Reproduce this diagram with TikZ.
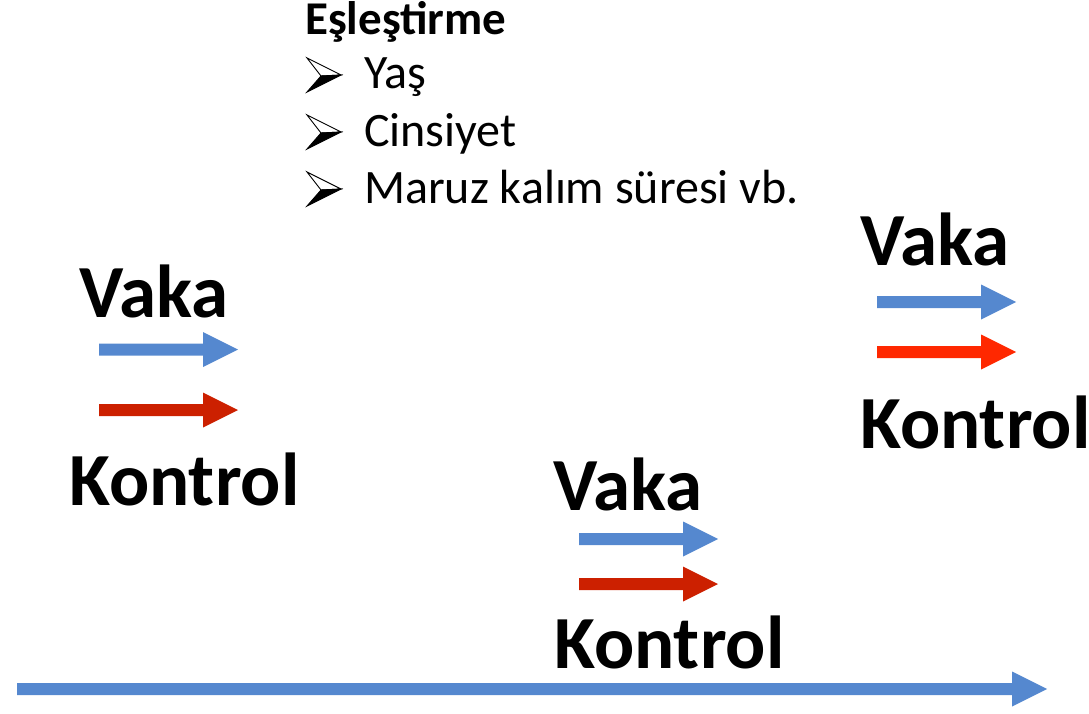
\documentclass[tikz,border=0pt]{standalone}
\usepackage{fontspec}
\setmainfont{Carlito}
\usetikzlibrary{positioning,calc}

\definecolor{vakablue}{RGB}{85,136,207}
\definecolor{darkred}{RGB}{204,32,0}
\definecolor{brightred}{RGB}{255,40,0}

% fat block arrow: colour, x start, x tip, y centre
\newcommand{\fatarrow}[4]{%
  \fill[#1] (#2,#4-6) -- (#3-35,#4-6) -- (#3-35,#4-17.5) -- (#3,#4)
    -- (#3-35,#4+17.5) -- (#3-35,#4+6) -- (#2,#4+6) -- cycle;}

\tikzset{
  bigword/.style={font=\bfseries\fontsize{75}{75}\selectfont, anchor=base west, inner sep=0pt},
  headword/.style={font=\bfseries\fontsize{47}{47}\selectfont, anchor=base west, inner sep=0pt},
  listword/.style={font=\fontsize{48}{48}\selectfont, anchor=base west, inner sep=0pt}
}

\begin{document}
\begin{tikzpicture}[x=1pt,y=-1pt]
		\useasboundingbox (0,0) rectangle (1089,714);

		% matching criteria
		\node[headword] (esles) at (305,35) {Eşleştirme};
		\node[listword] (yas) at (364,89) {Yaş};
		\node[listword] (cins) at (364,147) {Cinsiyet};
		\node[listword] (maruz) at (364,204) {Maruz kalım süresi vb.};
		\foreach \yy in {75,132,189} {
			\filldraw[fill=white,draw=black,line width=0.9pt] (307,\yy-17) -- (341,\yy) -- (321,\yy+1) -- cycle;
			\filldraw[fill=black,draw=black,line width=0.9pt] (321,\yy+1) -- (341,\yy) -- (307,\yy+17) -- cycle;
		}

		% first pair
		\node[bigword] (vakaA) at (79,317) {Vaka};
		\node[bigword] (kontrolA) at (69,505) {Kontrol};
		\fatarrow{vakablue}{99}{238}{349.5}
		\fatarrow{darkred}{99}{238}{410}

		% second pair
		\node[bigword] (vakaB) at (553,510) {Vaka};
		\node[bigword] (kontrolB) at (554,668) {Kontrol};
		\fatarrow{vakablue}{579}{718}{539}
		\fatarrow{darkred}{579}{718}{584}

		% third pair
		\node[bigword] (vakaC) at (860,265) {Vaka};
		\node[bigword] (kontrolC) at (860,448) {Kontrol};
		\fatarrow{vakablue}{877}{1016}{302}
		\fatarrow{brightred}{877}{1016}{352}

		% time axis
		\fatarrow{vakablue}{17}{1047}{689}
	\end{tikzpicture}
\end{document}
